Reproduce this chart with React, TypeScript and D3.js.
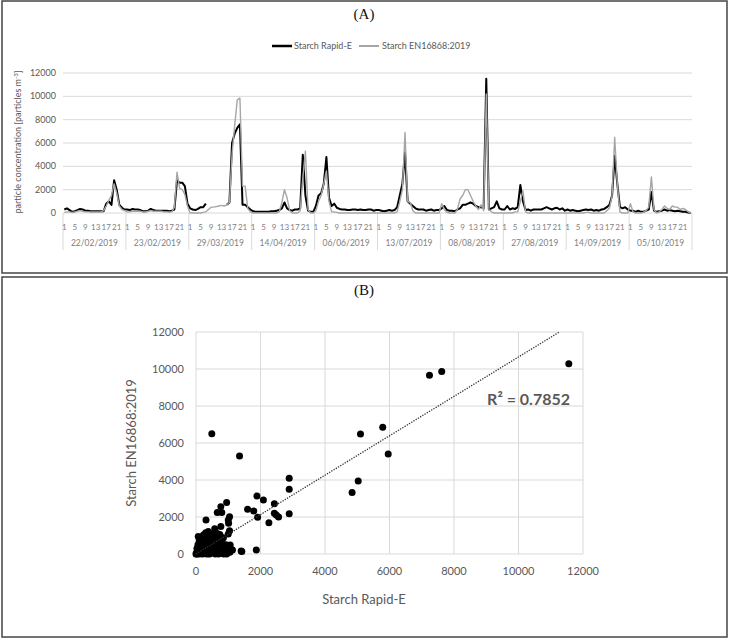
import React from "react";
import * as d3 from "d3";

const days = ["22/02/2019", "23/02/2019", "29/03/2019", "14/04/2019", "06/06/2019", "13/07/2019", "08/08/2019", "27/08/2019", "14/09/2019", "05/10/2019"];
const hourLabels = ["1", "5", "9", "13", "17", "21"];
const yTicksTop = [0, 2000, 4000, 6000, 8000, 10000, 12000];
const axisTicksB = [0, 2000, 4000, 6000, 8000, 10000, 12000];

// hourly values per day (24 each); null = missing
const rapidE: (number | null)[][] = [
  [300, 400, 250, 100, 150, 250, 350, 300, 200, 200, 150, 150, 150, 150, 150, 150, 800, 1000, 700, 2800, 2000, 700, 450, 300],
  [300, 250, 350, 300, 300, 250, 150, 150, 200, 350, 250, 200, 200, 200, 200, 200, 150, 200, 300, 2800, 2600, 2600, 2300, 800],
  [400, 300, 250, 350, 500, 500, 800, null, null, null, null, null, null, null, 700, 900, 6000, 6800, 7300, 7600, 700, 700, 500, 300],
  [150, 100, 100, 100, 100, 100, 100, 150, 150, 200, 250, 400, 900, 400, 250, 200, 300, 300, 400, 5000, 1500, 200, 100, 100],
  [600, 1500, 1700, 2500, 4800, 1300, 600, 800, 450, 350, 300, 300, 250, 250, 300, 300, 250, 300, 250, 250, 300, 300, 200, 250],
  [250, 200, 150, 200, 250, 200, 250, 500, 1500, 2500, 5200, 1000, 800, 600, 400, 300, 300, 300, 200, 250, 300, 200, 250, 250],
  [400, 600, 250, 200, 200, 150, 300, 400, 700, 700, 800, 900, 800, 600, 500, 500, 400, 11500, 300, 400, 500, 1000, 400, 300],
  [300, 600, 300, 400, 350, 500, 2400, 1000, 250, 300, 200, 300, 300, 300, 300, 400, 500, 400, 300, 400, 450, 300, 400, 200],
  [300, 200, 250, 200, 150, 200, 250, 300, 250, 300, 200, 250, 200, 300, 350, 500, 700, 1500, 4900, 2500, 500, 400, 500, 300],
  [200, 200, 100, 200, 100, 100, 200, 300, 1800, 200, 100, 150, 200, 300, 200, 250, 200, 150, 200, 150, 100, 100, 50, 0],
];
const en16868: number[][] = [
  [50, 100, 100, 50, 100, 150, 200, 150, 100, 100, 100, 100, 100, 100, 100, 200, 600, 1100, 1500, 2500, 1700, 600, 300, 200],
  [100, 100, 150, 150, 150, 150, 100, 100, 150, 200, 150, 150, 150, 150, 100, 100, 100, 100, 500, 3500, 2100, 2000, 1600, 600],
  [0, 0, 0, 0, 0, 50, 100, 300, 500, 500, 550, 600, 650, 600, 700, 900, 5000, 7500, 9700, 9850, 2300, 2300, 400, 100],
  [0, 0, 0, 0, 0, 0, 0, 0, 0, 0, 100, 900, 2000, 1300, 200, 0, 0, 0, 200, 3000, 5300, 300, 0, 0],
  [200, 1000, 1500, 2500, 3600, 1000, 100, 100, 50, 0, 0, 0, 0, 0, 0, 0, 0, 0, 0, 0, 0, 0, 0, 0],
  [0, 0, 0, 0, 0, 0, 0, 100, 1000, 2000, 6900, 1000, 900, 200, 0, 0, 0, 0, 0, 0, 0, 0, 0, 0],
  [800, 300, 50, 0, 0, 0, 300, 1200, 1500, 2000, 2000, 1500, 1000, 600, 300, 700, 200, 10200, 300, 100, 0, 0, 0, 0],
  [0, 0, 0, 0, 100, 100, 1000, 1900, 100, 0, 0, 0, 0, 0, 0, 0, 0, 0, 0, 0, 0, 0, 0, 0],
  [0, 0, 0, 0, 0, 0, 0, 50, 50, 0, 0, 0, 0, 0, 0, 200, 400, 1500, 6500, 2500, 100, 0, 0, 0],
  [800, 100, 0, 0, 0, 50, 200, 500, 3100, 300, 0, 100, 300, 600, 400, 300, 600, 500, 500, 300, 400, 300, 100, 0],
];

// scatter: [Starch Rapid-E, Starch EN16868:2019]
const scatterPts: [number, number][] = [
  [490, 6500], [1350, 5300], [2890, 4090], [2890, 3500], [2890, 2180], [1890, 3130], [2090, 2920],
  [2430, 2720], [1600, 2420], [1790, 2330], [1910, 1980], [2430, 2200], [2490, 2110], [2560, 2000],
  [2260, 1690], [1870, 220], [1400, 160], [1110, 230], [4840, 3320], [5030, 3950], [5100, 6490],
  [5790, 6850], [5960, 5400], [7240, 9660], [7620, 9870], [11560, 10290],
  [950, 2790], [770, 2560], [660, 2250], [800, 2250], [1040, 2020], [1000, 1840], [310, 1840],
  [770, 1480], [580, 1370], [1010, 1660], [1040, 1260], [380, 1210], [230, 1030], [70, 940],
  [1000, 1080], [850, 880], [610, 940], [490, 760], [950, 490], [1060, 490], [1420, 130], [1130, 220],
  [20, 0], [50, 20], [80, 50], [100, 0], [120, 80], [150, 30], [180, 100], [200, 0], [220, 150],
  [250, 60], [280, 200], [300, 20], [320, 120], [350, 250], [380, 80], [400, 300], [420, 0],
  [450, 180], [480, 350], [500, 100], [520, 400], [550, 50], [580, 250], [600, 500], [620, 150],
  [650, 600], [680, 300], [700, 700], [720, 50], [750, 450], [780, 200], [800, 800], [820, 100],
  [850, 350], [880, 50], [900, 150], [950, 80], [30, 300], [60, 500], [90, 200], [130, 400],
  [160, 600], [190, 350], [230, 700], [260, 450], [290, 800], [330, 550], [360, 900], [390, 650],
  [430, 500], [460, 850], [490, 600], [530, 950], [560, 750], [590, 1000], [640, 850], [670, 1100],
  [710, 950], [740, 1050], [770, 600], [300, 1150], [400, 1000], [500, 1100], [600, 1200],
  [250, 950], [150, 850], [100, 700], [40, 150], [10, 50], [70, 400], [900, 500], [1000, 300],
  [1050, 100], [860, 0], [950, 0], [0, 0], [600, 0], [700, 0], [350, 0],
];
const trendSlope = 1.065;
const trendIntercept = 0;
const r2Label = "R² = 0.7852";

const FONT = "Lato, 'Open Sans', sans-serif";
const TXT = "#595959";
const GRID = "#d9d9d9";

export default function App() {
  // ---- top panel scales
  const nHours = days.length * 24;
  const xT = d3.scaleLinear().domain([0, nHours]).range([63, 692]);
  const yT = d3.scaleLinear().domain([0, 12000]).range([213, 73]);
  const flatRapid = rapidE.flat();
  const flatEN = en16868.flat();
  const lineGen = d3
    .line<number | null>()
    .defined((d) => d !== null)
    .x((_, i) => xT(i + 0.5))
    .y((d) => yT(d as number));

  // ---- bottom panel scales
  const xB = d3.scaleLinear().domain([0, 12000]).range([196, 583]);
  const yB = d3.scaleLinear().domain([0, 12000]).range([554, 332]);
  const trendEnd = (12000 - trendIntercept) / trendSlope;

  return (
    <svg width={729} height={638} style={{ position: "absolute", left: 0, top: 0, background: "#fff" }}>
      <rect x={0} y={0} width={729} height={638} fill="#fff" />
      {/* frames */}
      <rect x={2} y={1} width={725} height={272} fill="none" stroke="#444" strokeWidth={1.5} />
      <rect x={2} y={277} width={725} height={360} fill="none" stroke="#444" strokeWidth={1.5} />
      <text x={364} y={19} textAnchor="middle" fontFamily="'Liberation Serif', serif" fontSize={15} fill="#111">(A)</text>
      <text x={364} y={295} textAnchor="middle" fontFamily="'Liberation Serif', serif" fontSize={15} fill="#111">(B)</text>

      {/* ---- top panel ---- */}
      <g fontFamily={FONT}>
        {/* legend */}
        <line x1={272} x2={292} y1={46} y2={46} stroke="#000" strokeWidth={2.5} />
        <text x={294} y={46} dy="0.35em" fontSize={9} fill={TXT}>Starch Rapid-E</text>
        <line x1={359} x2={379} y1={46} y2={46} stroke="#a6a6a6" strokeWidth={2} />
        <text x={382} y={46} dy="0.35em" fontSize={9} fill={TXT}>Starch EN16868:2019</text>

        {yTicksTop.map((t) => (
          <g key={t}>
            <line x1={63} x2={692} y1={yT(t)} y2={yT(t)} stroke={GRID} strokeWidth={1} />
            <text x={56} y={yT(t)} dy="0.35em" textAnchor="end" fontSize={9} fill={TXT}>{t}</text>
          </g>
        ))}
        <text transform="translate(21,142) rotate(-90)" textAnchor="middle" fontSize={9} fill={TXT}>
          particle concentration [particles m<tspan fontSize={6} dy={-3}>-3</tspan><tspan dy={3}>]</tspan>
        </text>

        {/* day separators and labels */}
        {days.map((d, k) => (
          <g key={d}>
            <line x1={xT(k * 24)} x2={xT(k * 24)} y1={213} y2={250} stroke={GRID} strokeWidth={1} />
            <text x={(xT(k * 24) + xT(k * 24 + 24)) / 2} y={243} dy="0.35em" textAnchor="middle" fontSize={8.5} fill="#7f7f7f">{d}</text>
            {hourLabels.map((h, j) => (
              <text key={h} x={xT(k * 24 + j * 4 + 0.5)} y={227} dy="0.35em" textAnchor="middle" fontSize={8} fill="#7f7f7f">{h}</text>
            ))}
          </g>
        ))}
        <line x1={xT(nHours)} x2={xT(nHours)} y1={213} y2={250} stroke={GRID} strokeWidth={1} />

        <path d={lineGen(flatRapid) || ""} fill="none" stroke="#000" strokeWidth={2} strokeLinejoin="round" />
        <path d={lineGen(flatEN) || ""} fill="none" stroke="#a6a6a6" strokeWidth={1.4} strokeLinejoin="round" />
      </g>

      {/* ---- bottom panel ---- */}
      <g fontFamily={FONT}>
        {axisTicksB.map((t) => (
          <g key={t}>
            <line x1={xB(0)} x2={xB(12000)} y1={yB(t)} y2={yB(t)} stroke={GRID} strokeWidth={1} />
            <line x1={xB(t)} x2={xB(t)} y1={yB(0)} y2={yB(12000)} stroke={GRID} strokeWidth={1} />
            <text x={184} y={yB(t)} dy="0.35em" textAnchor="end" fontSize={11} fill={TXT}>{t}</text>
            <text x={xB(t)} y={571} dy="0.35em" textAnchor="middle" fontSize={11} fill={TXT}>{t}</text>
          </g>
        ))}
        <text x={364} y={599} dy="0.35em" textAnchor="middle" fontSize={13} fill={TXT}>Starch Rapid-E</text>
        <text transform="translate(131,443) rotate(-90)" textAnchor="middle" dy="0.35em" fontSize={13} fill={TXT}>Starch EN16868:2019</text>

        {scatterPts.map(([a, b], i) => (
          <circle key={i} cx={xB(a)} cy={yB(b)} r={3.5} fill="#000" />
        ))}
        <line
          x1={xB(0)}
          y1={yB(trendIntercept)}
          x2={xB(trendEnd)}
          y2={yB(12000)}
          stroke="#333"
          strokeWidth={1.3}
          strokeDasharray="1.3,1.3"
        />
        <text x={570} y={405} textAnchor="end" fontSize={16} fontWeight="bold" fill={TXT}>{r2Label}</text>
      </g>
    </svg>
  );
}
